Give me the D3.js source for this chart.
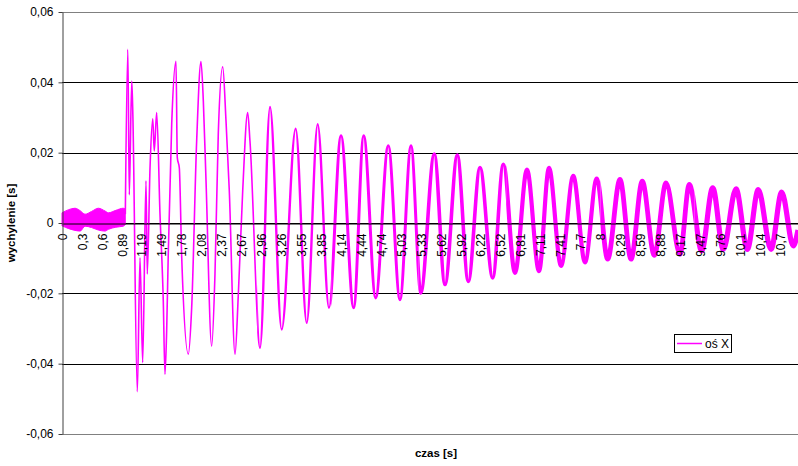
<!DOCTYPE html>
<html>
<head>
<meta charset="utf-8">
<script src="https://cdn.jsdelivr.net/npm/d3@7"></script>
<style>
  html, body { margin: 0; padding: 0; background: #fff; }
  svg { display: block; font-family: "Liberation Sans", Arial, sans-serif; }
</style>
</head>
<body>
<svg id="chart" width="798" height="466"></svg>
<script>
// ---------- DATA ----------
const xTickLabels = ["0","0,3","0,6","0,89","1,19","1,49","1,78","2,08","2,37","2,67","2,96","3,26","3,55","3,85","4,14","4,44","4,74","5,03","5,33","5,62","5,92","6,22","6,52","6,81","7,11","7,41","7,7","8","8,29","8,59","8,88","9,17","9,47","9,76","10,1","10,4","10,7"];
const xTickStep = 0.2963;           // seconds between labelled categories
const yTickValues = [-0.06, -0.04, -0.02, 0, 0.02, 0.04, 0.06];
const yTickLabels = ["-0,06","-0,04","-0,02","0","0,02","0,04","0,06"];

// quiet part before the impulse (noisy band: upper / lower envelope)
const bandTime  = [0, 0.1, 0.193, 0.27, 0.342, 0.44, 0.54, 0.64, 0.69, 0.8, 0.91, 0.94];
const bandUpper = [0.0029, 0.0038, 0.0042, 0.0035, 0.0025, 0.0033, 0.0042, 0.0034, 0.0029, 0.0036, 0.0042, 0.0040];
const bandLower = [-0.0008, -0.0016, -0.0021, -0.0023, -0.0009, -0.0013, -0.0020, -0.0023, -0.0018, -0.0012, -0.0009, -0.0005];

// oscillation after the impulse
const sigTime = [0.941, 0.978, 1.0, 1.036, 1.05, 1.119, 1.159, 1.199, 1.248, 1.267, 1.308, 1.348, 1.371, 1.407,
  1.456, 1.505, 1.530, 1.555, 1.579, 1.630, 1.694, 1.713, 1.743, 1.779, 1.877, 1.927, 2.001, 2.065, 2.100, 2.140,
  2.224, 2.273, 2.322, 2.388, 2.437, 2.486, 2.571, 2.620, 2.685, 2.759, 2.793,
  2.942, 3.091, 3.264, 3.472, 3.636, 3.799, 3.967, 4.146, 4.334, 4.483, 4.661, 4.848,
  5.022, 5.186, 5.330, 5.532, 5.691, 5.874, 6.037, 6.211, 6.400, 6.557, 6.731, 6.909,
  7.088, 7.236, 7.415, 7.597, 7.771, 7.945, 8.108, 8.291, 8.455, 8.622, 8.801, 8.975,
  9.183, 9.321, 9.505, 9.669, 9.826, 10.015, 10.183, 10.346, 10.535, 10.694, 10.866, 10.936];
const sigValue = [0.0025, 0.0494, 0.008, 0.0404, 0.033, -0.048, -0.0099, -0.0397, 0.012, -0.0145, 0.0157, 0.0296, 0.0205, 0.0314,
  0.0026, -0.0222, -0.043, -0.0307, -0.0088, 0.0281, 0.046, 0.0186, 0.0157, -0.0099, -0.0373, -0.024, 0.0233, 0.0459, 0.0347, 0.012,
  -0.035, -0.0146, 0.0252, 0.0444, 0.029, 0.0091, -0.0373, -0.0203, 0.0091, 0.0314, 0.0233,
  -0.0355, 0.0330, -0.0303, 0.0268, -0.0284, 0.0281, -0.0241, 0.0248, -0.0241, 0.0248, -0.0213, 0.0220,
  -0.0218, 0.0220, -0.0199, 0.0196, -0.0175, 0.0193, -0.0166, 0.0158, -0.0156, 0.0167, -0.0142, 0.0152,
  -0.0137, 0.0157, -0.0122, 0.0134, -0.0112, 0.0126, -0.0103, 0.0124, -0.0103, 0.0119, -0.0092, 0.0114,
  -0.0089, 0.0110, -0.0079, 0.0100, -0.0075, 0.0097, -0.0075, 0.0095, -0.0075, 0.0088, -0.0065, -0.002];

const seriesName = "oś X";
const xTitle = "czas [s]";
const yTitle = "wychylenie [s]";

// ---------- LAYOUT ----------
const svg = d3.select("#chart");
const plotLeft = 62, plotRight = 798, plotTop = 12, plotBottom = 434;
const pxPerSecond = 67.3;
const x = d3.scaleLinear().domain([0, (plotRight - plotLeft) / pxPerSecond]).range([plotLeft, plotRight]);
const y = d3.scaleLinear().domain([-0.06, 0.06]).range([plotBottom, plotTop]);
const magenta = "#ff00ff";

// gridlines
svg.append("g").selectAll("line").data(yTickValues).join("line")
  .attr("x1", plotLeft).attr("x2", plotRight)
  .attr("y1", d => Math.round(y(d)) + 0.5).attr("y2", d => Math.round(y(d)) + 0.5)
  .attr("stroke", d => (Math.abs(d) > 0.05 ? "#808080" : "#000"))
  .attr("stroke-width", 1);

// quiet noisy band
const band = bandTime.map((t, i) => ({ t, u: bandUpper[i], l: bandLower[i] }));
svg.append("path").datum(band)
  .attr("fill", magenta).attr("stroke", magenta).attr("stroke-width", 1)
  .attr("d", d3.area().x(d => x(d.t)).y0(d => y(d.l)).y1(d => y(d.u)).curve(d3.curveMonotoneX));

// oscillation: one continuous curve, shown through clip windows whose
// stroke thickens with time (the sensor noise grows relative to the swing)
const sig = sigTime.map((t, i) => ({ t, v: sigValue[i] }));
const line = d3.line().x(d => x(d.t)).y(d => y(d.v)).curve(d3.curveMonotoneX);
const sigPath = line(sig);
const pieces = [
  { from: 0.9, to: 2.9, w: 1.6 },
  { from: 2.9, to: 4.0, w: 2.4 },
  { from: 4.0, to: 5.3, w: 3.0 },
  { from: 5.3, to: 6.6, w: 3.6 },
  { from: 6.6, to: 8.0, w: 4.2 },
  { from: 8.0, to: 9.4, w: 4.8 },
  { from: 9.4, to: 11.5, w: 5.2 }
];
const defs = svg.append("defs");
pieces.forEach((p, i) => {
  defs.append("clipPath").attr("id", "clip" + i)
    .append("rect")
    .attr("x", x(p.from)).attr("width", x(p.to) - x(p.from))
    .attr("y", plotTop).attr("height", plotBottom - plotTop);
  svg.append("path")
    .attr("clip-path", `url(#clip${i})`)
    .attr("fill", "none").attr("stroke", magenta)
    .attr("stroke-width", p.w).attr("stroke-linejoin", "round")
    .attr("d", sigPath);
});

// zero axis (category axis)
const xAxis = d3.axisBottom(x)
  .tickValues(xTickLabels.map((_, i) => i * xTickStep))
  .tickFormat((d, i) => xTickLabels[i])
  .tickSize(0).tickSizeOuter(0);
const gx = svg.append("g").attr("transform", `translate(0,${Math.round(y(0)) + 0.5})`).call(xAxis);
gx.select(".domain").attr("stroke", "#000");
gx.selectAll("text")
  .attr("transform", "rotate(-90)")
  .attr("x", -10).attr("y", 0).attr("dy", "0.35em")
  .attr("text-anchor", "end")
  .attr("font-size", 12).attr("font-family", "Liberation Sans, Arial, sans-serif")
  .attr("fill", "#000");

// value axis
const yAxis = d3.axisLeft(y).tickValues(yTickValues)
  .tickFormat((d, i) => yTickLabels[i]).tickSize(4).tickPadding(5).tickSizeOuter(0);
const gy = svg.append("g").attr("transform", `translate(${plotLeft + 0.5},0)`).call(yAxis);
gy.select(".domain").attr("stroke", "#404040");
gy.selectAll(".tick line").attr("stroke", "#404040");
gy.selectAll("text").attr("font-size", 12)
  .attr("font-family", "Liberation Sans, Arial, sans-serif").attr("fill", "#000");

// titles
svg.append("text").attr("transform", `translate(15,${y(0)}) rotate(-90)`)
  .attr("text-anchor", "middle").attr("font-weight", "bold").attr("font-size", 11.5)
  .text(yTitle);
svg.append("text").attr("x", 436).attr("y", 457)
  .attr("text-anchor", "middle").attr("font-weight", "bold").attr("font-size", 11.5)
  .text(xTitle);

// legend
const lg = svg.append("g");
lg.append("rect").attr("x", 674.5).attr("y", 334.5).attr("width", 57).attr("height", 18)
  .attr("fill", "#fff").attr("stroke", "#000");
lg.append("line").attr("x1", 677).attr("x2", 702).attr("y1", 343.5).attr("y2", 343.5)
  .attr("stroke", magenta).attr("stroke-width", 1.5);
lg.append("text").attr("x", 705).attr("y", 347.5).attr("font-size", 12).text(seriesName);
</script>
</body>
</html>
